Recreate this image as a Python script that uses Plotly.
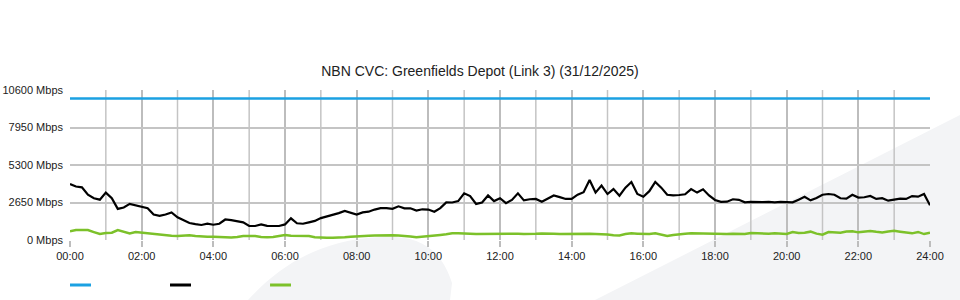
import plotly.graph_objects as go

# 10-minute samples, 00:00 .. 24:00
time_labels = [f"{(k*10)//60:02d}:{(k*10)%60:02d}" for k in range(145)]
hours = [k * 10 / 60 for k in range(145)]

capacity = [10000] * 145

download = [
    3950, 3780, 3720, 3200, 2950, 2850, 3350, 2950, 2200, 2300,
    2550, 2450, 2320, 2250, 1800, 1700, 1800, 1950, 1600, 1400,
    1200, 1120, 1060, 1150, 1080, 1150, 1450, 1400, 1300, 1250,
    990, 990, 1100, 1000, 990, 990, 1100, 1530, 1180, 1150,
    1250, 1350, 1550, 1650, 1770, 1900, 2050, 1930, 1800, 1950,
    2000, 2150, 2250, 2250, 2200, 2380, 2240, 2240, 2080, 2170,
    2150, 2000, 2250, 2660, 2650, 2750, 3300, 3100, 2550, 2650,
    3150, 2750, 2950, 2600, 2830, 3300, 2800, 2880, 2900, 2700,
    2900, 3150, 3030, 2900, 2900, 3200, 3380, 4240, 3350, 3850,
    3250, 3600, 3130, 3700, 4100, 3250, 3060, 3450, 4100, 3700,
    3200, 3150, 3180, 3230, 3600, 3350, 3580, 3150, 2830, 2700,
    2710, 2880, 2840, 2660, 2700, 2680, 2680, 2700, 2660, 2690,
    2650, 2660, 2850, 3050, 2800, 2970, 3200, 3250, 3200, 2950,
    2920, 3200, 3000, 3020, 3110, 2900, 2950, 2780, 2850, 2920,
    2900, 3100, 3060, 3250, 2450,
]

upload = [
    620, 700, 707, 707, 560, 420, 500, 520, 707, 590,
    470, 570, 520, 480, 400, 400, 350, 300, 280, 320,
    340, 280, 235, 235, 235, 200, 180, 170, 220, 280,
    280, 280, 220, 190, 220, 300, 350, 300, 280, 280,
    280, 200, 165, 165, 165, 165, 200, 235, 240, 260,
    300, 320, 340, 350, 340, 320, 300, 250, 190, 220,
    250, 320, 360, 400, 470, 470, 480, 450, 420, 430,
    440, 450, 420, 440, 470, 450, 430, 420, 440, 460,
    470, 450, 430, 440, 460, 470, 450, 440, 420, 420,
    380, 330, 320, 420, 470, 450, 440, 420, 480, 400,
    280, 350, 420, 440, 470, 460, 430, 420, 420, 430,
    420, 440, 430, 420, 500, 470, 420, 440, 470, 450,
    430, 560, 500, 520, 590, 450, 380, 560, 560, 520,
    600, 620, 540, 600, 640, 580, 530, 600, 650, 590,
    520, 470, 570, 420, 520,
]

y_ticks = [0, 2650, 5300, 7950, 10600]
y_tick_text = [f"{v} Mbps" for v in y_ticks]
x_ticks = list(range(0, 25, 2))
x_tick_text = [f"{h:02d}:00" for h in x_ticks]
x_minor_ticks = list(range(1, 24, 2))

C_BLUE = "#1ba1e2"
C_BLACK = "#000000"
C_GREEN = "#7cc12a"

fig = go.Figure()

# hourly minor grid lines (odd hours) drawn as a background trace
grid_x, grid_y = [], []
for h in x_minor_ticks:
    grid_x += [h, h, None]
    grid_y += [y_ticks[0], y_ticks[-1], None]
fig.add_trace(go.Scatter(x=grid_x, y=grid_y, mode="lines", line=dict(color="#c4c4c4", width=1.5),
                         hoverinfo="skip", showlegend=False))

fig.add_trace(go.Scatter(x=hours, y=capacity, mode="lines", line=dict(color=C_BLUE, width=2.5),
                         customdata=time_labels, showlegend=False))
fig.add_trace(go.Scatter(x=hours, y=download, mode="lines", line=dict(color=C_BLACK, width=2.2),
                         customdata=time_labels, showlegend=False))
fig.add_trace(go.Scatter(x=hours, y=upload, mode="lines", line=dict(color=C_GREEN, width=2.5),
                         customdata=time_labels, showlegend=False))

WM = "#f3f4f6"
# watermark band (bottom right)
fig.add_shape(type="path", xref="paper", yref="paper", layer="below",
              path="M 0.6105,-0.4 L 1.0349,0.8333 L 1.0349,-0.4 Z",
              fillcolor=WM, line=dict(width=0))
# watermark swoosh (bottom middle)
fig.add_shape(type="path", xref="paper", yref="paper", layer="below",
              path="M 0.2070,-0.4 C 0.2442,-0.1667 0.2907,0 0.3605,0.02 "
                   "C 0.4012,0.0333 0.4302,-0.0333 0.4442,-0.2867 L 0.4419,-0.4 Z",
              fillcolor=WM, line=dict(width=0))
# legend swatches (no labels)
for x0, col in [(0.0, C_BLUE), (0.1163, C_BLACK), (0.2326, C_GREEN)]:
    fig.add_shape(type="line", xref="paper", yref="paper", x0=x0, x1=x0 + 0.0244,
                  y0=-0.3, y1=-0.3, line=dict(color=col, width=3))

fig.update_layout(
    width=960, height=300,
    margin=dict(l=70, r=30, t=90, b=60, autoexpand=False),
    paper_bgcolor="white", plot_bgcolor="rgba(0,0,0,0)",
    font=dict(family="Liberation Sans, Arial, sans-serif", size=11, color="#222"),
    title=dict(text="NBN CVC: Greenfields Depot (Link 3) (31/12/2025)",
               x=0.5, xanchor="center", y=1 - 71 / 300, yanchor="middle", yref="container",
               font=dict(size=14, color="#222")),
    showlegend=False,
    xaxis=dict(range=[0, 24], tickmode="array", tickvals=x_ticks, ticktext=x_tick_text,
               showgrid=True, gridcolor="#bdbdbd", gridwidth=1.8,
               ticks="outside", ticklen=6, tickcolor="#bdbdbd", tickwidth=1.5,
               zeroline=False, showline=False, fixedrange=True, automargin=False),
    yaxis=dict(range=[0, 10600], tickmode="array", tickvals=y_ticks, ticktext=y_tick_text,
               showgrid=True, gridcolor="#c4c4c4", gridwidth=2,
               ticks="", ticklabelstandoff=6,
               zeroline=False, showline=False, fixedrange=True, automargin=False),
)

fig.write_html("out.html")
